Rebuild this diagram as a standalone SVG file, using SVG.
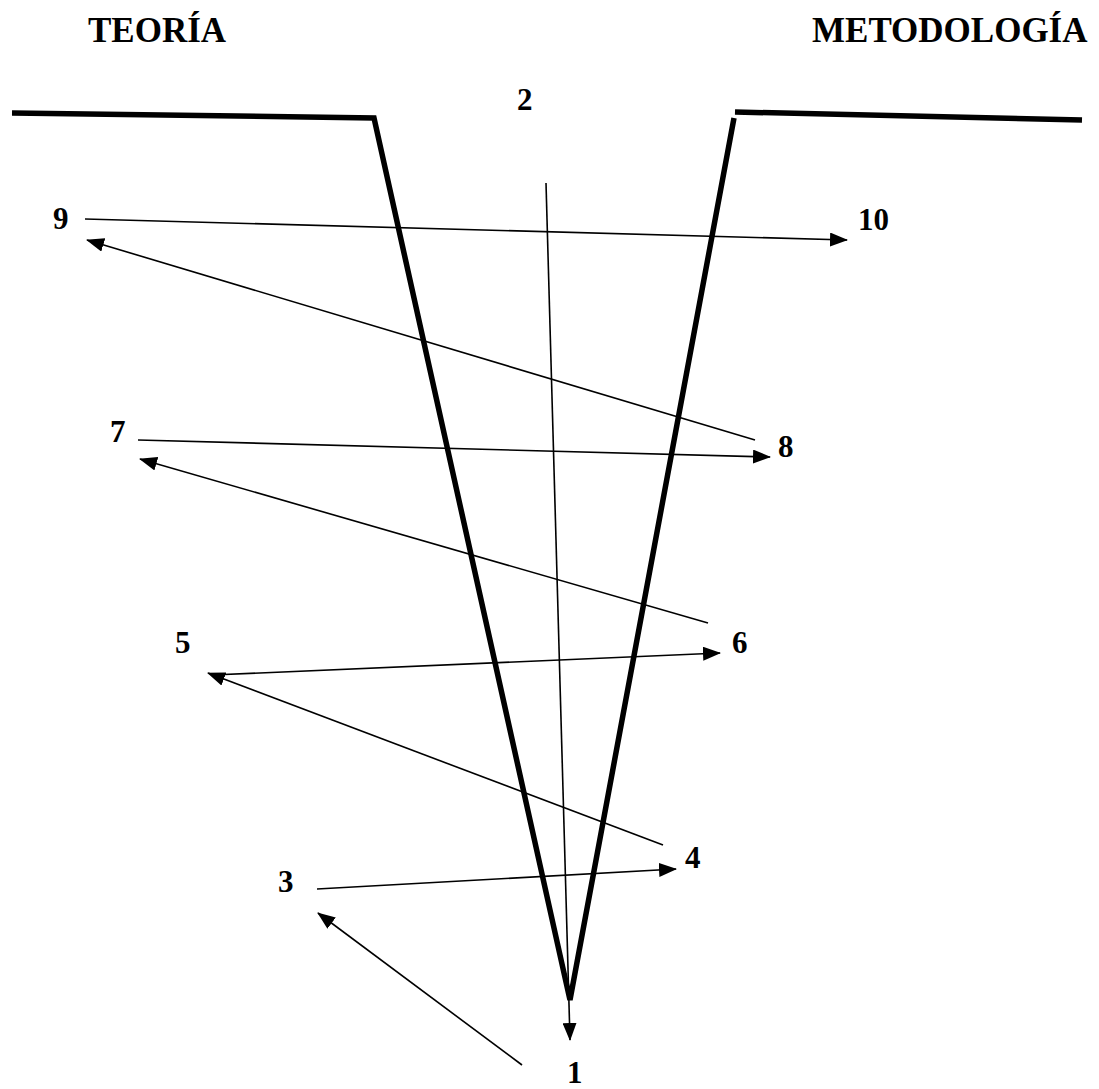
<svg xmlns="http://www.w3.org/2000/svg" width="1099" height="1089" viewBox="0 0 1099 1089">
<style>
.lbl{font-family:"Liberation Serif","Times New Roman",serif;font-weight:bold;fill:#000}
.hd{font-size:35px}
.num{font-size:31px}
.thick{fill:none;stroke:#000;stroke-width:5.5;stroke-linejoin:miter}
.arr{fill:none;stroke:#000;stroke-width:1.6;marker-end:url(#ah)}
</style>
<defs>
<marker id="ah" markerUnits="userSpaceOnUse" markerWidth="18" markerHeight="14" refX="17" refY="7" orient="auto">
<path d="M0,0 L18,7 L0,14 z" fill="#000"/>
</marker>
</defs>
<rect width="1099" height="1089" fill="#fff"/>
<g id="headers">
<text class="lbl hd" x="88" y="42">TEORÍA</text>
<text class="lbl hd" x="812" y="42">METODOLOGÍA</text>
</g>
<g id="funnel">
<polyline class="thick" points="12,113 374,118 570,1000 734,118"/>
<line class="thick" x1="735" y1="112" x2="1082" y2="120"/>
</g>
<g id="n1"><text class="lbl num" x="567" y="1083">1</text></g>
<g id="n2"><text class="lbl num" x="517" y="110">2</text></g>
<g id="n3"><text class="lbl num" x="278" y="892">3</text></g>
<g id="n4"><text class="lbl num" x="685" y="868">4</text></g>
<g id="n5"><text class="lbl num" x="175" y="653">5</text></g>
<g id="n6"><text class="lbl num" x="732" y="653">6</text></g>
<g id="n7"><text class="lbl num" x="110" y="442">7</text></g>
<g id="n8"><text class="lbl num" x="778" y="457">8</text></g>
<g id="n9"><text class="lbl num" x="53" y="229">9</text></g>
<g id="n10"><text class="lbl num" x="858" y="230">10</text></g>
<g id="connectors">
<line class="arr" x1="546" y1="183" x2="570" y2="1040"/>
<line class="arr" x1="522" y1="1065" x2="318" y2="913"/>
<line class="arr" x1="317" y1="889" x2="676" y2="869"/>
<line class="arr" x1="663" y1="845" x2="208" y2="673"/>
<line class="arr" x1="212" y1="675" x2="720" y2="653"/>
<line class="arr" x1="708" y1="623" x2="140" y2="459"/>
<line class="arr" x1="138" y1="440" x2="770" y2="457"/>
<line class="arr" x1="755" y1="440" x2="87" y2="240"/>
<line class="arr" x1="85" y1="219" x2="847" y2="240"/>
</g>
</svg>
